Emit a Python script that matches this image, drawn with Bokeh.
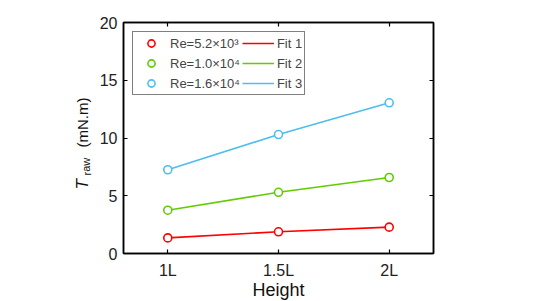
from bokeh.plotting import figure
from bokeh.layouts import row
from bokeh.models import Legend, LegendItem, LinearAxis, Label, FixedTicker, Range1d
from bokeh.embed import file_html
from bokeh.resources import INLINE

heights = [1.0, 1.5, 2.0]
height_labels = {1: "1L", 1.5: "1.5L", 2: "2L"}
t_re1 = [1.35, 1.88, 2.28]
t_re2 = [3.75, 5.30, 6.58]
t_re3 = [7.25, 10.30, 13.05]
re_labels = ["Re=5.2×10³", "Re=1.0×10⁴", "Re=1.6×10⁴"]
fit_labels = ["Fit 1", "Fit 2", "Fit 3"]
colors = ["#FF0000", "#62CC00", "#4DBEEE"]
y_ticks = [0, 5, 10, 15, 20]

FONT = "Liberation Sans"
TOTAL_H = 293
LAB_W = 96

p = figure(output_backend="svg", toolbar_location=None,
           frame_width=310, frame_height=231,
           min_border_left=26, min_border_right=88,
           min_border_top=22, min_border_bottom=40,
           x_range=Range1d(0.8, 2.2), y_range=Range1d(0, 20))
p.background_fill_color = "white"
p.border_fill_color = "white"
p.outline_line_color = "black"
p.outline_line_width = 1.5
p.xgrid.visible = False
p.ygrid.visible = False

series = [t_re1, t_re2, t_re3]
circ_r, line_r = [], []
for ys, c in zip(series, colors):
    l = p.line(heights, ys, line_color=c, line_width=1.6)
    m = p.scatter(heights, ys, marker="circle", size=8, line_color=c,
                  line_width=1.6, fill_color="white")
    circ_r.append(m)
    line_r.append(l)

for ax in (p.xaxis[0], p.yaxis[0]):
    ax.major_tick_in = 4
    ax.major_tick_out = 0
    ax.minor_tick_in = 0
    ax.minor_tick_out = 0
    ax.axis_line_width = 1.5
    ax.axis_line_color = "black"
    ax.major_tick_line_width = 1.2
    ax.major_label_text_font = FONT
    ax.major_label_text_font_size = "16px"
    ax.major_label_text_color = "#222222"
    ax.axis_label_text_font = FONT
    ax.axis_label_text_font_size = "18px"
    ax.axis_label_text_font_style = "normal"
    ax.axis_label_text_color = "#111111"

p.xaxis[0].ticker = FixedTicker(ticks=heights)
p.xaxis[0].major_label_overrides = height_labels
p.xaxis[0].axis_label = "Height"
p.xaxis[0].axis_label_standoff = -2
p.xaxis[0].major_label_standoff = 8
p.yaxis[0].ticker = FixedTicker(ticks=y_ticks)
p.yaxis[0].major_label_standoff = 6

for loc in ("right", "above"):
    ax = LinearAxis(major_label_text_font_size="0px", major_tick_in=4,
                    major_tick_out=0, minor_tick_in=0, minor_tick_out=0,
                    axis_line_width=1.5, major_tick_line_width=1.2)
    if loc == "right":
        ax.ticker = FixedTicker(ticks=y_ticks)
    else:
        ax.ticker = FixedTicker(ticks=heights)
    ax.major_label_text_color = None
    p.add_layout(ax, loc)

items = [LegendItem(label=re_labels[i], renderers=[circ_r[i]]) for i in range(3)]
items += [LegendItem(label=fit_labels[i], renderers=[line_r[i]]) for i in range(3)]
legend = Legend(items=items, location="top_left", ncols=2,
                margin=9, padding=2, spacing=2,
                glyph_width=32, glyph_height=18, label_standoff=3,
                label_text_font=FONT, label_text_font_size="13px",
                label_height=18,
                border_line_color="black", border_line_width=1.2,
                background_fill_alpha=1.0)
p.add_layout(legend, "center")

# side panel holding the y-axis title (T italic with "raw" subscript, units)
lab = figure(output_backend="svg", toolbar_location=None, title=None,
             frame_width=LAB_W, frame_height=TOTAL_H,
             min_border_left=0, min_border_right=0,
             min_border_top=0, min_border_bottom=0,
             x_range=Range1d(0, LAB_W), y_range=Range1d(0, TOTAL_H),
             x_axis_type=None, y_axis_type=None)
lab.outline_line_color = None
lab.xgrid.visible = False
lab.ygrid.visible = False
lab.border_fill_color = "white"
lab.background_fill_color = "white"
lab.add_layout(Label(x=82, y=126,
                     text="T", angle=1.5708,
                     text_font=FONT, text_font_style="italic",
                     text_font_size="17px", text_baseline="alphabetic",
                     text_color="#111111"))
lab.add_layout(Label(x=86, y=140,
                     text="raw", angle=1.5708,
                     text_font=FONT, text_font_size="11px",
                     text_baseline="alphabetic", text_color="#111111"))
lab.add_layout(Label(x=82, y=168,
                     text="(mN.m)", angle=1.5708,
                     text_font=FONT, text_font_size="15px",
                     text_baseline="alphabetic", text_color="#111111"))

layout = row(lab, p)
open("out.html", "w").write(file_html(layout, INLINE))
